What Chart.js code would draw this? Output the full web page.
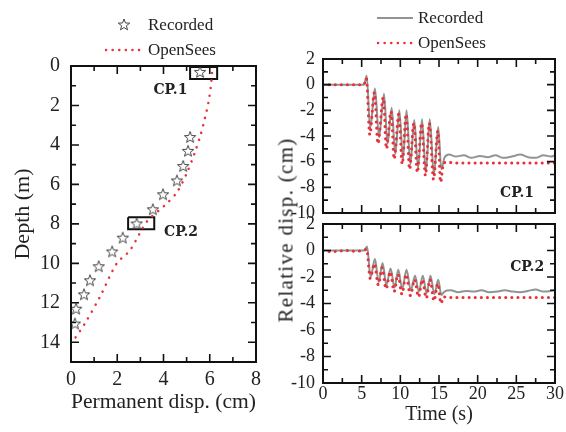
<!DOCTYPE html>
<html>
<head>
<meta charset="utf-8">
<script src="https://cdn.jsdelivr.net/npm/chart.js@4.4.0/dist/chart.umd.min.js"></script>
<style>
  html, body { margin: 0; padding: 0; background: #fff; }
  body { width: 566px; height: 432px; position: relative; overflow: hidden;
         font-family: "Liberation Serif", serif; color: #222; }
  canvas { position: absolute; }
  #depthCanvas { left: 0; top: 0; }
  #cp1Canvas { left: 280px; top: 0; }
  #cp2Canvas { left: 280px; top: 200px; }
  .leg { position: absolute; font-size: 17px; line-height: 20px; white-space: nowrap; }
  #legSvg { position: absolute; left: 0; top: 0; }
  #relTitle { position: absolute; left: 286px; top: 230px; font-size: 21px; letter-spacing: 1.3px; white-space: nowrap;
              transform: translate(-50%, -50%) rotate(-90deg); }
</style>
</head>
<body>
<canvas id="depthCanvas" width="280" height="432"></canvas>
<canvas id="cp1Canvas" width="286" height="232"></canvas>
<canvas id="cp2Canvas" width="286" height="232"></canvas>

<svg id="legSvg" width="566" height="60">
  <polygon id="legStar" fill="none" stroke="#444" stroke-width="1"></polygon>
  <line x1="106" y1="50" x2="140" y2="50" stroke="#e8313a" stroke-width="2.5" stroke-dasharray="0.1 6.5" stroke-linecap="round"/>
  <line x1="377" y1="18" x2="413" y2="18" stroke="#8f9692" stroke-width="1.8"/>
  <line x1="378" y1="43" x2="413" y2="43" stroke="#e8313a" stroke-width="2.5" stroke-dasharray="0.1 6.5" stroke-linecap="round"/>
</svg>
<div class="leg" style="left:148px; top:15px;">Recorded</div>
<div class="leg" style="left:148px; top:40px;">OpenSees</div>
<div class="leg" style="left:418px; top:8px;">Recorded</div>
<div class="leg" style="left:418px; top:33px;">OpenSees</div>
<div id="relTitle">Relative disp. (cm)</div>

<script>
// --------------------
// Data
// --------------------
// permanent displacement profile (cm vs depth m)
const recDisp = [5.58, 5.15, 5.06, 4.85, 4.58, 3.98, 3.54, 2.84, 2.24, 1.78, 1.2, 0.82, 0.56, 0.22, 0.17];
const recDepth = [0.3, 3.6, 4.3, 5.07, 5.8, 6.5, 7.26, 7.98, 8.7, 9.4, 10.15, 10.86, 11.57, 12.3, 13.05];
const osDisp = [6.1, 6.05, 5.95, 5.8, 5.6, 5.35, 5.0, 4.58, 4.14, 3.82, 3.27, 2.55, 1.98, 1.25, 0.6, 0.17];
const osDepth = [0.35, 1.0, 1.8, 2.6, 3.5, 4.4, 5.45, 6.4, 6.97, 7.3, 7.9, 9.34, 10.0, 11.7, 13.05, 13.8];
const depthTicks = [0, 2, 4, 6, 8, 10, 12, 14];

// boxes marking the two checkpoints [dispMin, dispMax, depthMin, depthMax]
const box1 = [5.15, 6.32, 0.05, 0.66];
const box2 = [2.47, 3.6, 7.66, 8.27];

// CP.1 time histories
const cp1RecTime = [0, 5.3, 5.65, 6.1, 6.72, 7.25, 7.89, 8.35, 8.88, 9.35, 9.87, 10.35, 10.8, 11.3, 11.8, 12.3,
  12.8, 13.3, 13.8, 14.35, 14.9, 15.3, 15.7, 16.3, 17.2, 18.2, 19.2, 20.3, 21.3, 22.3, 23.3, 24.4, 25.5,
  26.5, 27.5, 28.5, 29.5, 30];
const cp1Rec = [0, 0, 0.7, -3.4, -0.3, -4.1, -0.7, -4.6, -1.8, -5.4, -2.0, -5.8, -2.0, -6.2, -2.75, -6.5,
  -2.7, -6.8, -2.7, -7.0, -3.3, -6.6, -5.7, -5.45, -5.6, -5.5, -5.7, -5.55, -5.65, -5.5, -5.7, -5.6, -5.45,
  -5.65, -5.7, -5.5, -5.6, -5.5];
const cp1OsTime = [0, 5.3, 5.6, 6.05, 6.65, 7.1, 7.8, 8.2, 8.8, 9.2, 9.8, 10.25, 10.75, 11.2, 11.75, 12.2,
  12.75, 13.25, 13.75, 14.3, 14.85, 15.2, 15.6, 16.2, 17, 18, 20, 22, 24, 26, 28, 30];
const cp1Os = [0, 0, 0.5, -3.9, -0.6, -4.6, -1.0, -5.0, -2.1, -5.8, -2.3, -6.2, -2.3, -6.6, -3.0, -6.85,
  -3.0, -7.1, -3.0, -7.4, -3.6, -7.6, -6.1, -6.05, -6.1, -6.1, -6.1, -6.1, -6.1, -6.1, -6.1, -6.1];

// CP.2 time histories
const cp2RecTime = [0, 5.3, 5.7, 6.15, 6.72, 7.2, 7.7, 8.2, 8.74, 9.25, 9.73, 10.25, 10.8, 11.35, 11.9, 12.4,
  12.9, 13.4, 13.9, 14.4, 14.9, 15.3, 15.7, 16.5, 17.5, 18.5, 19.5, 20.5, 21.5, 22.5, 23.5, 24.5, 25.5,
  26.5, 27.5, 28.5, 29.5, 30];
const cp2Rec = [0, 0, 0.3, -2.0, -0.65, -2.4, -0.95, -2.6, -1.35, -2.8, -1.45, -2.9, -1.45, -3.0, -1.9, -3.1,
  -1.9, -3.2, -1.9, -3.3, -2.2, -3.35, -3.1, -3.0, -3.15, -3.05, -3.1, -3.0, -3.15, -3.1, -3.0, -3.1, -3.15,
  -3.05, -2.95, -3.1, -3.05, -3.0];
const cp2OsTime = [0, 1, 2, 3, 4, 5.3, 5.65, 6.1, 6.65, 7.15, 7.65, 8.15, 8.7, 9.2, 9.7, 10.2, 10.75, 11.3,
  11.85, 12.35, 12.85, 13.35, 13.85, 14.35, 14.85, 15.25, 15.6, 16.5, 18, 20, 22, 24, 26, 28, 30];
const cp2Os = [0, -0.08, -0.05, 0, -0.05, 0, 0.1, -2.1, -1.0, -2.6, -1.3, -2.9, -1.6, -3.1, -1.8, -3.3, -1.8,
  -3.4, -2.2, -3.5, -2.2, -3.6, -2.2, -3.8, -2.5, -4.0, -3.5, -3.55, -3.55, -3.55, -3.55, -3.55, -3.55, -3.55, -3.55];

// --------------------
// Styles
// --------------------
const RED = '#e8313a';
const GRAY = '#8f9692';
const INK = '#222';
const SERIF = '"Liberation Serif", serif';

const zip = (xs, ys) => xs.map((v, i) => ({ x: v, y: ys[i] }));
const boxPts = b => [{ x: b[0], y: b[2] }, { x: b[1], y: b[2] }, { x: b[1], y: b[3] }, { x: b[0], y: b[3] }, { x: b[0], y: b[2] }];

// hollow five-point star marker
function starPath(cx, cy, ro, ri) {
  const pts = [];
  for (let i = 0; i < 10; i++) {
    const r = i % 2 === 0 ? ro : ri;
    const a = -Math.PI / 2 + i * Math.PI / 5;
    pts.push([cx + r * Math.cos(a), cy + r * Math.sin(a)]);
  }
  return pts;
}
const starImg = document.createElement('canvas');
starImg.width = 14; starImg.height = 14;
(function () {
  const c = starImg.getContext('2d');
  c.strokeStyle = '#444';
  c.lineWidth = 1;
  c.beginPath();
  starPath(7, 7.5, 6, 2.5).forEach((p, i) => i ? c.lineTo(p[0], p[1]) : c.moveTo(p[0], p[1]));
  c.closePath();
  c.stroke();
})();
document.getElementById('legStar').setAttribute('points',
  starPath(124, 25, 6, 2.5).map(p => p.join(',')).join(' '));

// --------------------
// Plugins: frame with inward ticks, checkpoint labels
// --------------------
const frameTicks = {
  id: 'frameTicks',
  afterDatasetsDraw(chart, args, opts) {
    const { ctx, chartArea: a, scales: { x, y } } = chart;
    ctx.save();
    ctx.strokeStyle = '#111';
    ctx.lineWidth = 1.6;
    ctx.beginPath();
    const vx = (vals, len) => vals.forEach(v => {
      const px = x.getPixelForValue(v);
      ctx.moveTo(px, a.bottom); ctx.lineTo(px, a.bottom - len);
      ctx.moveTo(px, a.top); ctx.lineTo(px, a.top + len);
    });
    const vy = (vals, len) => vals.forEach(v => {
      const py = y.getPixelForValue(v);
      ctx.moveTo(a.left, py); ctx.lineTo(a.left + len, py);
      ctx.moveTo(a.right, py); ctx.lineTo(a.right - len, py);
    });
    vx(opts.xMajor, 8); vx(opts.xMinor, 5);
    vy(opts.yMajor, 8); vy(opts.yMinor, 5);
    ctx.stroke();
    ctx.lineWidth = 2;
    ctx.strokeRect(a.left, a.top, a.right - a.left, a.bottom - a.top);
    ctx.restore();
  }
};

const cpLabels = {
  id: 'cpLabels',
  afterDatasetsDraw(chart, args, opts) {
    const { ctx, scales: { x, y } } = chart;
    ctx.save();
    ctx.font = 'bold 14px "DejaVu Serif", serif';
    ctx.fillStyle = INK;
    ctx.textAlign = 'center';
    ctx.textBaseline = 'middle';
    opts.items.forEach(it => ctx.fillText(it.text, x.getPixelForValue(it.x), y.getPixelForValue(it.y)));
    ctx.restore();
  }
};

const noGrid = { display: false, drawTicks: false };

// --------------------
// Depth profile chart
// --------------------
new Chart(document.getElementById('depthCanvas'), {
  type: 'scatter',
  data: {
    datasets: [
      { label: 'Recorded', data: zip(recDisp, recDepth), pointStyle: starImg, pointRadius: 7, showLine: false },
      { label: 'OpenSees', data: zip(osDisp, osDepth), showLine: true, borderColor: RED, borderWidth: 2.5,
        borderDash: [0.1, 7.5], borderCapStyle: 'round', pointRadius: 0, tension: 0.3 },
      { label: 'box1', data: boxPts(box1), showLine: true, borderColor: '#111', borderWidth: 2, pointRadius: 0 },
      { label: 'box2', data: boxPts(box2), showLine: true, borderColor: '#111', borderWidth: 2, pointRadius: 0 }
    ]
  },
  options: {
    responsive: false,
    animation: false,
    layout: { padding: { top: 66, right: 24, bottom: 10, left: 0 } },
    plugins: {
      legend: { display: false },
      tooltip: { enabled: false },
      frameTicks: { xMajor: [2, 4, 6], xMinor: [1, 3, 5, 7], yMajor: [2, 4, 6, 8, 10, 12, 14], yMinor: [1, 3, 5, 7, 9, 11, 13] },
      cpLabels: { items: [{ text: 'CP.1', x: 4.3, y: 1.22 }, { text: 'CP.2', x: 4.76, y: 8.43 }] }
    },
    scales: {
      x: {
        type: 'linear', min: 0, max: 8,
        grid: noGrid, border: { display: false },
        ticks: { stepSize: 2, font: { family: SERIF, size: 20 }, color: INK, padding: 6 },
        title: { display: true, text: 'Permanent disp. (cm)', font: { family: SERIF, size: 22 }, color: INK,
                 padding: { top: 0, bottom: 7 } },
        afterFit: s => { s.height = 60; }
      },
      y: {
        type: 'linear', min: 0, max: 15, reverse: true,
        grid: noGrid, border: { display: false },
        ticks: { font: { family: SERIF, size: 20 }, color: INK, padding: 11 },
        afterBuildTicks: s => { s.ticks = depthTicks.map(v => ({ value: v })); },
        title: { display: true, text: 'Depth (m)', font: { family: SERIF, size: 22 }, color: INK,
                 padding: { top: 10, bottom: 0 } },
        afterFit: s => { s.width = 71; }
      }
    }
  },
  plugins: [frameTicks, cpLabels]
});

// --------------------
// Time history charts
// --------------------
function createHistoryChart(canvasId, recT, rec, osT, os, opts) {
  return new Chart(document.getElementById(canvasId), {
    type: 'scatter',
    data: {
      datasets: [
        { label: 'OpenSees', data: zip(osT, os), showLine: true, borderColor: RED, borderWidth: 3,
          borderDash: [0.1, 6], borderCapStyle: 'round', pointRadius: 0, cubicInterpolationMode: 'monotone' },
        { label: 'Recorded', data: zip(recT, rec), showLine: true, borderColor: GRAY, borderWidth: 2,
          pointRadius: 0, cubicInterpolationMode: 'monotone' }
      ]
    },
    options: {
      responsive: false,
      animation: false,
      layout: { padding: opts.padding },
      plugins: {
        legend: { display: false },
        tooltip: { enabled: false },
        frameTicks: { xMajor: [5, 10, 15, 20, 25], xMinor: [2.5, 7.5, 12.5, 17.5, 22.5, 27.5],
                      yMajor: [0, -2, -4, -6, -8], yMinor: [1, -1, -3, -5, -7, -9] },
        cpLabels: { items: [opts.label] }
      },
      scales: {
        x: {
          type: 'linear', min: 0, max: 30,
          grid: noGrid, border: { display: false },
          ticks: { display: opts.showX, stepSize: 5, font: { family: SERIF, size: 18 }, color: INK, padding: 0 },
          title: { display: opts.showX, text: 'Time (s)', font: { family: SERIF, size: 20 }, color: INK,
                   padding: { top: 0, bottom: 1 } },
          afterFit: s => { s.height = opts.xHeight; }
        },
        y: {
          type: 'linear', min: -10, max: 2,
          grid: noGrid, border: { display: false },
          ticks: { stepSize: 2, font: { family: SERIF, size: 18 }, color: INK, padding: 8 },
          afterFit: s => { s.width = 43; }
        }
      }
    },
    plugins: [frameTicks, cpLabels]
  });
}

createHistoryChart('cp1Canvas', cp1RecTime, cp1Rec, cp1OsTime, cp1Os, {
  padding: { top: 59, right: 11, bottom: 5, left: 0 }, xHeight: 14, showX: false,
  label: { text: 'CP.1', x: 25.1, y: -8.45 }
});
createHistoryChart('cp2Canvas', cp2RecTime, cp2Rec, cp2OsTime, cp2Os, {
  padding: { top: 24, right: 11, bottom: 4, left: 0 }, xHeight: 45, showX: true,
  label: { text: 'CP.2', x: 26.4, y: -1.3 }
});
</script>
</body>
</html>
